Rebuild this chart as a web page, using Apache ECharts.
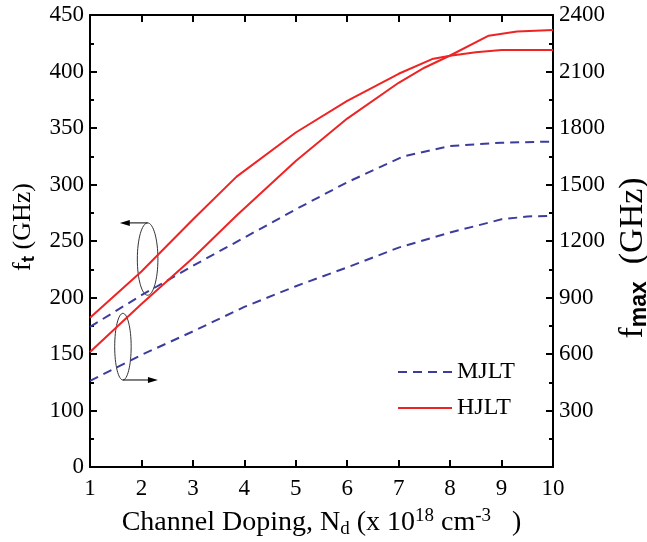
<!DOCTYPE html>
<html>
<head>
<meta charset="utf-8">
<script src="https://cdn.jsdelivr.net/npm/echarts@6/dist/echarts.min.js"></script>
<style>
html, body { margin: 0; padding: 0; background: #fff; }
#main { width: 647px; height: 542px; }
</style>
</head>
<body>
<div id="main"></div>
<script>
// 数据: 沟道掺杂 (x 10^18 cm^-3) 对应的 ft / fmax
const mjltFtX = [1, 2, 3, 4, 5, 6, 7.1, 8, 9, 10];
const mjltFt = [174, 202, 228, 253, 278, 302, 325, 334, 337, 338];

const hjltFtX = [1, 2, 3, 3.85, 5, 6, 7, 7.65, 8, 8.5, 9, 10];
const hjltFt = [182, 223, 269, 307, 346, 374, 398, 411, 414, 417, 419, 419];

const mjltFmaxX = [1, 2, 3, 4, 5, 6, 7, 8, 9, 9.5, 10];
const mjltFmax = [457, 595, 720, 850, 960, 1060, 1165, 1245, 1315, 1330, 1334];

const hjltFmaxX = [1, 2, 3, 3.85, 5, 6, 7, 7.5, 8, 8.75, 9.3, 10];
const hjltFmax = [611, 865, 1110, 1335, 1625, 1850, 2040, 2120, 2185, 2290, 2312, 2320];

const xTicks = [1, 2, 3, 4, 5, 6, 7, 8, 9, 10];

const serif = 'Liberation Serif, Times New Roman, serif';
const sans = 'Liberation Sans, Arial, sans-serif';
const blue = '#3c3c9c';
const red = '#ee2424';
const dash = [9, 6];

const zip = (xs, ys) => xs.map((x, i) => [x, ys[i]]);

var myChart = echarts.init(document.getElementById('main'));

// 坐标轴公共样式
const axisLine = { show: true, lineStyle: { color: '#000', width: 2 } };
const axisTick = { show: true, inside: true, length: 7, lineStyle: { color: '#000', width: 2 } };
const minorTick = { show: true, splitNumber: 2, length: 4, lineStyle: { color: '#000', width: 2 } };

const option = {
    animation: false,
    backgroundColor: '#fff',
    grid: { left: 90, right: 94, top: 15, bottom: 75, outerBoundsMode: 'none' },
    legend: {
        data: ['MJLT', 'HJLT'],
        orient: 'vertical',
        left: 397,
        top: 360,
        padding: 0,
        itemWidth: 54,
        itemHeight: 14,
        itemGap: 12,
        itemStyle: { opacity: 0 },
        textStyle: { fontSize: 24, fontFamily: serif, color: '#000' }
    },
    xAxis: [
        {
            type: 'value',
            min: 1,
            max: 10,
            interval: 1,
            position: 'bottom',
            axisLine: axisLine,
            axisTick: axisTick,
            splitLine: { show: false },
            axisLabel: {
                color: '#000', fontSize: 23, fontFamily: serif, margin: 10,
                formatter: (v) => xTicks.includes(v) ? String(v) : ''
            },
            name: '{b|Channel Doping, N}{sub|d}{b| (x 10}{sup|18}{b| cm}{sup|-3}{b|   )}',
            nameLocation: 'middle',
            nameGap: 40,
            nameTextStyle: {
                color: '#000',
                rich: {
                    b: { fontSize: 28, fontFamily: serif, color: '#000' },
                    sub: { fontSize: 19, fontFamily: serif, color: '#000', padding: [13, 0, 0, 0] },
                    sup: { fontSize: 19, fontFamily: serif, color: '#000', padding: [0, 0, 13, 0] }
                }
            }
        },
        {
            type: 'value',
            min: 1,
            max: 10,
            interval: 1,
            position: 'top',
            axisLine: axisLine,
            axisTick: axisTick,
            splitLine: { show: false },
            axisLabel: { show: false }
        }
    ],
    yAxis: [
        {
            type: 'value',
            min: 50,
            max: 450,
            interval: 50,
            position: 'left',
            axisLine: axisLine,
            axisTick: axisTick,
            minorTick: minorTick,
            splitLine: { show: false },
            axisLabel: {
                color: '#000', fontSize: 23, fontFamily: serif, margin: 6,
                formatter: (v) => v === 50 ? '0' : String(v)
            },
            name: '{f|f}{s|t}{f| (GHz)}',
            nameLocation: 'middle',
            nameGap: 52,
            nameTextStyle: {
                padding: [0, 0, 0, 28],
                rich: {
                    f: { fontSize: 26, fontFamily: serif, color: '#000' },
                    s: { fontSize: 19, fontWeight: 'bold', fontFamily: sans, color: '#000', padding: [10, 0, 0, 0] }
                }
            }
        },
        {
            type: 'value',
            min: 0,
            max: 2400,
            interval: 300,
            position: 'right',
            axisLine: axisLine,
            axisTick: axisTick,
            minorTick: minorTick,
            splitLine: { show: false },
            axisLabel: {
                color: '#000', fontSize: 23, fontFamily: serif, margin: 6,
                formatter: (v) => v === 0 ? '' : String(v)
            },
            name: '{f|f}{s|max}{f|  (GHz)}',
            nameLocation: 'middle',
            nameGap: 57,
            nameTextStyle: {
                padding: [0, 34, 0, 0],
                rich: {
                    f: { fontSize: 34, fontFamily: serif, color: '#000' },
                    s: { fontSize: 23, fontWeight: 'bold', fontFamily: sans, color: '#000', padding: [14, 0, 0, 0] }
                }
            }
        }
    ],
    series: [
        {
            name: 'MJLT', type: 'line', xAxisIndex: 0, yAxisIndex: 0,
            data: zip(mjltFtX, mjltFt), symbol: 'none',
            lineStyle: { color: blue, width: 2, type: dash }, itemStyle: { color: blue }
        },
        {
            name: 'HJLT', type: 'line', xAxisIndex: 0, yAxisIndex: 0,
            data: zip(hjltFtX, hjltFt), symbol: 'none',
            lineStyle: { color: red, width: 2 }, itemStyle: { color: red }
        },
        {
            name: 'MJLT', type: 'line', xAxisIndex: 0, yAxisIndex: 1,
            data: zip(mjltFmaxX, mjltFmax), symbol: 'none',
            lineStyle: { color: blue, width: 2, type: dash }, itemStyle: { color: blue }
        },
        {
            name: 'HJLT', type: 'line', xAxisIndex: 0, yAxisIndex: 1,
            data: zip(hjltFmaxX, hjltFmax), symbol: 'none',
            lineStyle: { color: red, width: 2 }, itemStyle: { color: red }
        }
    ]
};

myChart.setOption(option);

// 椭圆标注 + 箭头 (数据坐标, 左轴)
const toPx = (p) => myChart.convertToPixel({ xAxisIndex: 0, yAxisIndex: 0 }, p);

const drawNotes = () => {
    const els = [];
    const ellipse = (cx, cy, ex, ey) => {
        const c = toPx([cx, cy]);
        const e = toPx([ex, ey]);
        els.push({
            type: 'ellipse',
            shape: { cx: c[0], cy: c[1], rx: Math.abs(e[0] - c[0]), ry: Math.abs(e[1] - c[1]) },
            style: { fill: 'none', stroke: '#333', lineWidth: 1 }
        });
        return { c: c, rx: Math.abs(e[0] - c[0]), ry: Math.abs(e[1] - c[1]) };
    };
    const arrow = (x1, y1, x2, y2) => {
        const dir = x2 > x1 ? 1 : -1;
        els.push({
            type: 'line',
            shape: { x1: x1, y1: y1, x2: x2 - dir * 8, y2: y2 },
            style: { stroke: '#000', lineWidth: 1 }
        });
        els.push({
            type: 'polygon',
            shape: { points: [[x2, y2], [x2 - dir * 10, y2 - 3], [x2 - dir * 10, y2 + 3]] },
            style: { fill: '#000' }
        });
    };
    // ft 组: 箭头指向左轴
    const up = ellipse(2.12, 234, 2.32, 266);
    arrow(up.c[0], up.c[1] - up.ry, toPx([1.58, 0])[0], up.c[1] - up.ry);
    // fmax 组: 箭头指向右轴
    const lo = ellipse(1.64, 156.5, 1.8, 186);
    arrow(lo.c[0], lo.c[1] + lo.ry, toPx([2.32, 0])[0], lo.c[1] + lo.ry);
    myChart.setOption({ graphic: els });
};
drawNotes();
</script>
</body>
</html>
